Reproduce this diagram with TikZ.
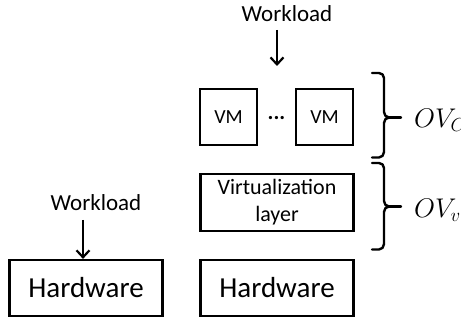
\documentclass[tikz,border=0pt]{standalone}
\usepackage{fix-cm}
\usepackage{fontspec}
\setmainfont{Carlito}
\usetikzlibrary{arrows.meta}
\begin{document}
\begin{tikzpicture}[x=1pt,y=-1pt,
  box/.style={draw,line width=2.2pt,inner sep=0pt,align=center},
  lbl/.style={inner sep=0pt},
  arr/.style={line width=2.2pt,-{Straight Barb[length=7pt,width=13pt,line width=2.2pt]}},
  brc/.style={line width=2.4pt,line cap=round,line join=round}]
\useasboundingbox (0,0) rectangle (461,320);
% boxes
\node[box,minimum width=57pt,minimum height=56pt,font=\fontsize{20}{24}\selectfont] (vm1) at (228.5,117) {VM};
\node[box,minimum width=57pt,minimum height=56pt,font=\fontsize{20}{24}\selectfont] (vm2) at (324.5,117) {VM};
\node[lbl,font=\fontsize{22}{24}\selectfont\bfseries] (dots) at (276.5,118) {...};
\node[box,minimum width=153pt,minimum height=57pt,font=\fontsize{22}{27}\selectfont] (virt) at (277,202.5) {Virtualization\\layer};
\node[box,minimum width=153pt,minimum height=56pt,font=\fontsize{29}{32}\selectfont] (hwr) at (277,288) {Hardware};
\node[box,minimum width=153pt,minimum height=56pt,font=\fontsize{29}{32}\selectfont] (hwl) at (86,288) {Hardware};
% workload labels
\node[lbl,font=\fontsize{23}{26}\selectfont] (wt) at (287,14) {Workload};
\node[lbl,font=\fontsize{23}{26}\selectfont] (wl) at (96,203) {Workload};
\coordinate (wts) at (277,30);
\coordinate (wte) at (277,66);
\coordinate (wls) at (83,220);
\draw[arr] (wts) -- (wte);
\draw[arr] (wls) -- (wls |- hwl.north);
% braces
\draw[brc] (372,73) -- (379,73) to[out=0,in=90] (384,78) -- (384,112)
  to[out=-90,in=180] (389,117.5) to[out=180,in=90] (384,123) -- (384,152)
  to[out=-90,in=0] (379,157.5) -- (372,157.5);
\draw[brc] (389,117.5) -- (401,117.5);
\draw[brc] (372,163) -- (379,163) to[out=0,in=90] (384,168) -- (384,201)
  to[out=-90,in=180] (389,206.5) to[out=180,in=90] (384,212) -- (384,244)
  to[out=-90,in=0] (379,249.5) -- (372,249.5);
\draw[brc] (389,206.5) -- (401,206.5);
\node[lbl,anchor=west,font=\fontsize{27}{32}\selectfont] (ovc) at (414,120) {$OV_C$};
\node[lbl,anchor=west,font=\fontsize{27}{32}\selectfont] (ovv) at (414,210) {$OV_v$};
\end{tikzpicture}
\end{document}
